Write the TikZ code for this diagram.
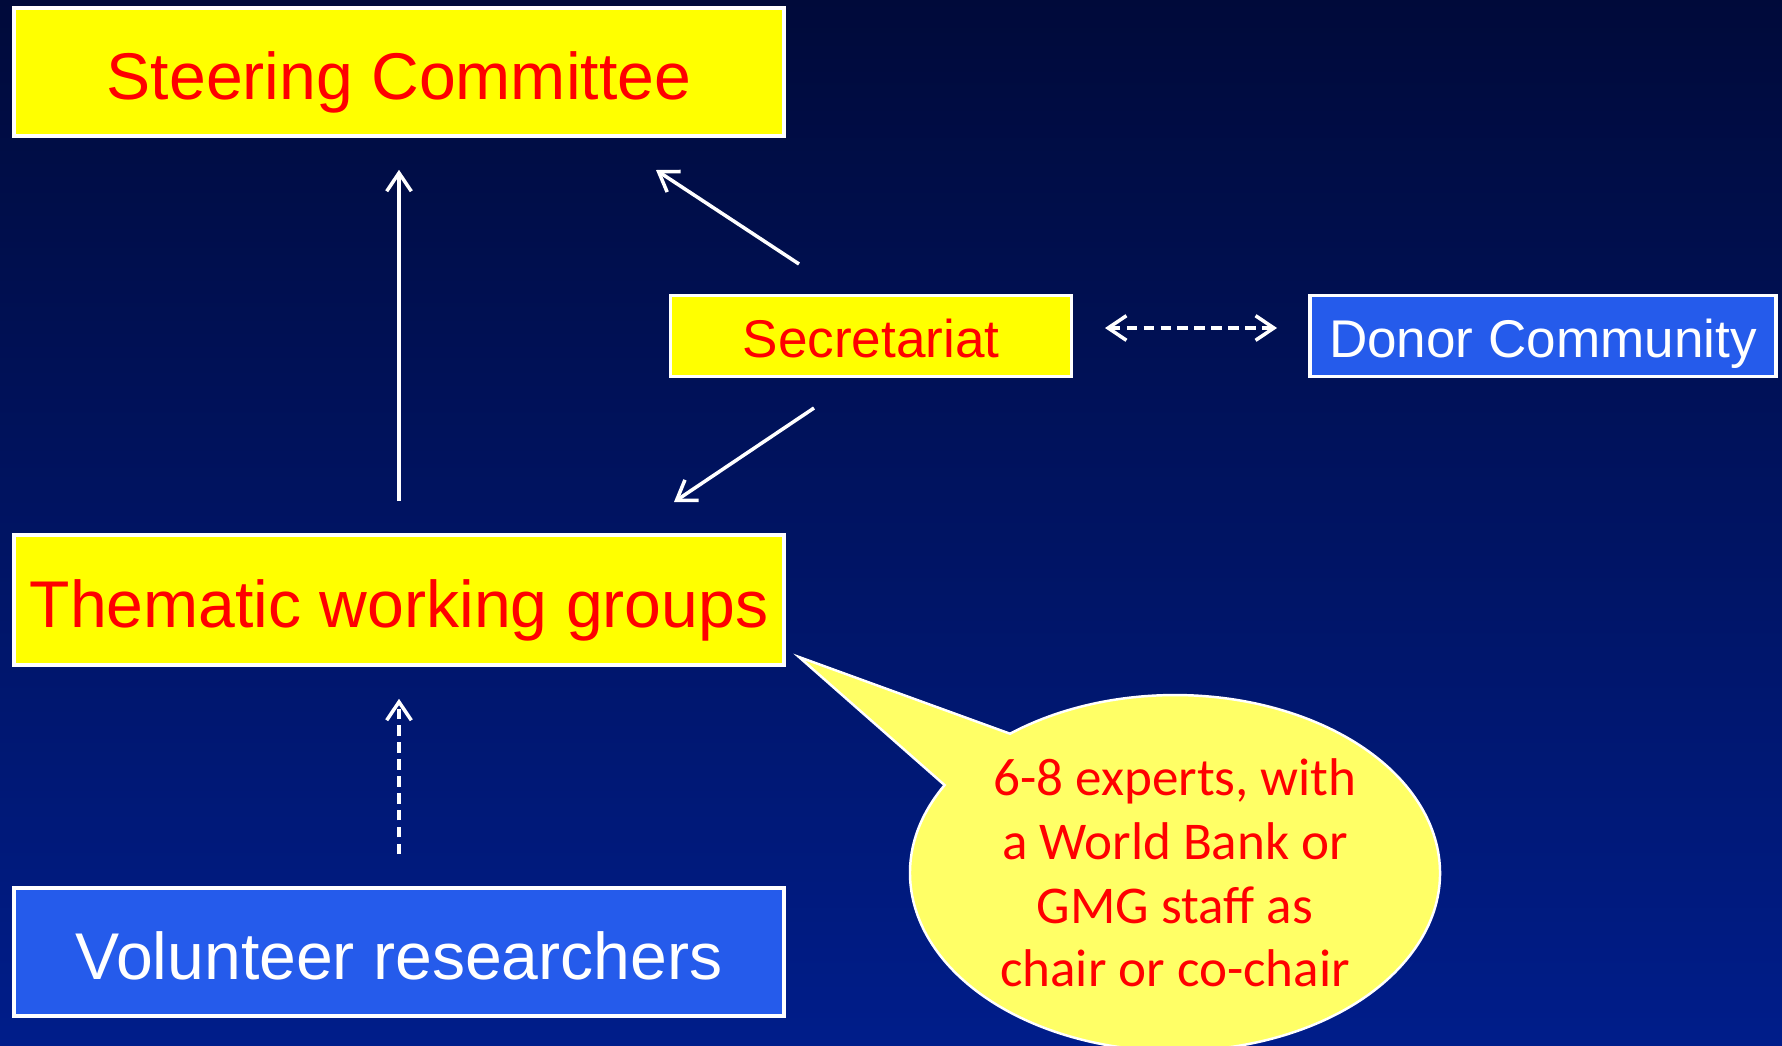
\documentclass[tikz,border=0pt]{standalone}
\usepackage{fontspec}
\setmainfont{Liberation Sans}
\newfontfamily\calibrifont{Carlito}
\usetikzlibrary{arrows.meta,calc}
\definecolor{bgtop}{RGB}{0,10,58}
\definecolor{bgmid}{RGB}{0,24,118}
\definecolor{bgbot}{RGB}{0,29,138}
\definecolor{boxyellow}{RGB}{255,255,0}
\definecolor{boxblue}{RGB}{37,91,235}
\definecolor{calloutyellow}{RGB}{255,255,102}
\definecolor{textred}{RGB}{255,0,0}
\begin{document}
\begin{tikzpicture}[x=0.01cm,y=0.01cm,
  ybox/.style={draw=white, line width=1pt, fill=boxyellow, text=textred, inner sep=0pt, text depth=0pt},
  bbox/.style={draw=white, line width=1pt, fill=boxblue, text=white, inner sep=0pt, text depth=0pt},
  bigtext/.style={font=\fontsize{18.8pt}{22pt}\selectfont, text height=15.8pt},
  smalltext/.style={font=\fontsize{15.1pt}{18pt}\selectfont, text height=12pt},
  arr/.style={draw=white, line width=1pt, -{Straight Barb[length=5.2pt,width=7pt]}},
  darr/.style={arr, dash pattern=on 3pt off 1.8pt},
  ddarr/.style={draw=white, line width=1pt, dash pattern=on 3pt off 1.8pt,
     {Straight Barb[length=5.2pt,width=7pt]}-{Straight Barb[length=5.2pt,width=7pt]}}
]
\useasboundingbox (0,0) rectangle (1782,-1045);
\clip (0,0) rectangle (1782,-1045);
\shade[top color=bgtop, middle color=bgmid, bottom color=bgbot] (0,0) rectangle (1782,-1045);

\node[ybox,bigtext,minimum width=7.70cm,minimum height=1.28cm] (steer) at (399,-72) {Steering Committee};
\node[ybox,bigtext,minimum width=7.70cm,minimum height=1.30cm] (them) at (399,-600) {Thematic working groups};
\node[bbox,bigtext,minimum width=7.70cm,minimum height=1.28cm] (vol) at (399,-952) {Volunteer researchers};
\node[ybox,smalltext,minimum width=4.01cm,minimum height=0.81cm] (sec) at (871,-336) {Secretariat};
\node[bbox,smalltext,minimum width=4.66cm,minimum height=0.81cm] (donor) at (1543,-336) {Donor Community};

\coordinate (s1) at (799,-264);
\coordinate (s1t) at (656,-170);
\coordinate (s2) at (814,-408);
\coordinate (s2t) at (674,-502);
\coordinate (d1) at (1105,-328);
\coordinate (d2) at (1277,-328);

\draw[arr, shorten <=0.32cm, shorten >=0.32cm] (them.north) -- (steer.south);
\draw[darr, shorten <=0.32cm, shorten >=0.32cm] (vol.north) -- (them.south);
\draw[arr] (s1) -- (s1t);
\draw[arr] (s2) -- (s2t);
\draw[ddarr] (d1) -- (d2);

\path[fill=calloutyellow, draw=white, line width=0.7pt]
  (1010,-733.7) -- (799,-657) -- (944.6,-785.1)
  arc[start angle=150.4, end angle=488.5, x radius=265, y radius=178] -- cycle;
\node[text=textred, font=\calibrifont\fontsize{15.1pt}{18.1pt}\selectfont, align=center] (note) at (1175,-873)
  {6-8 experts, with\\a World Bank or\\GMG staff as\\chair or co-chair};
\end{tikzpicture}
\end{document}
